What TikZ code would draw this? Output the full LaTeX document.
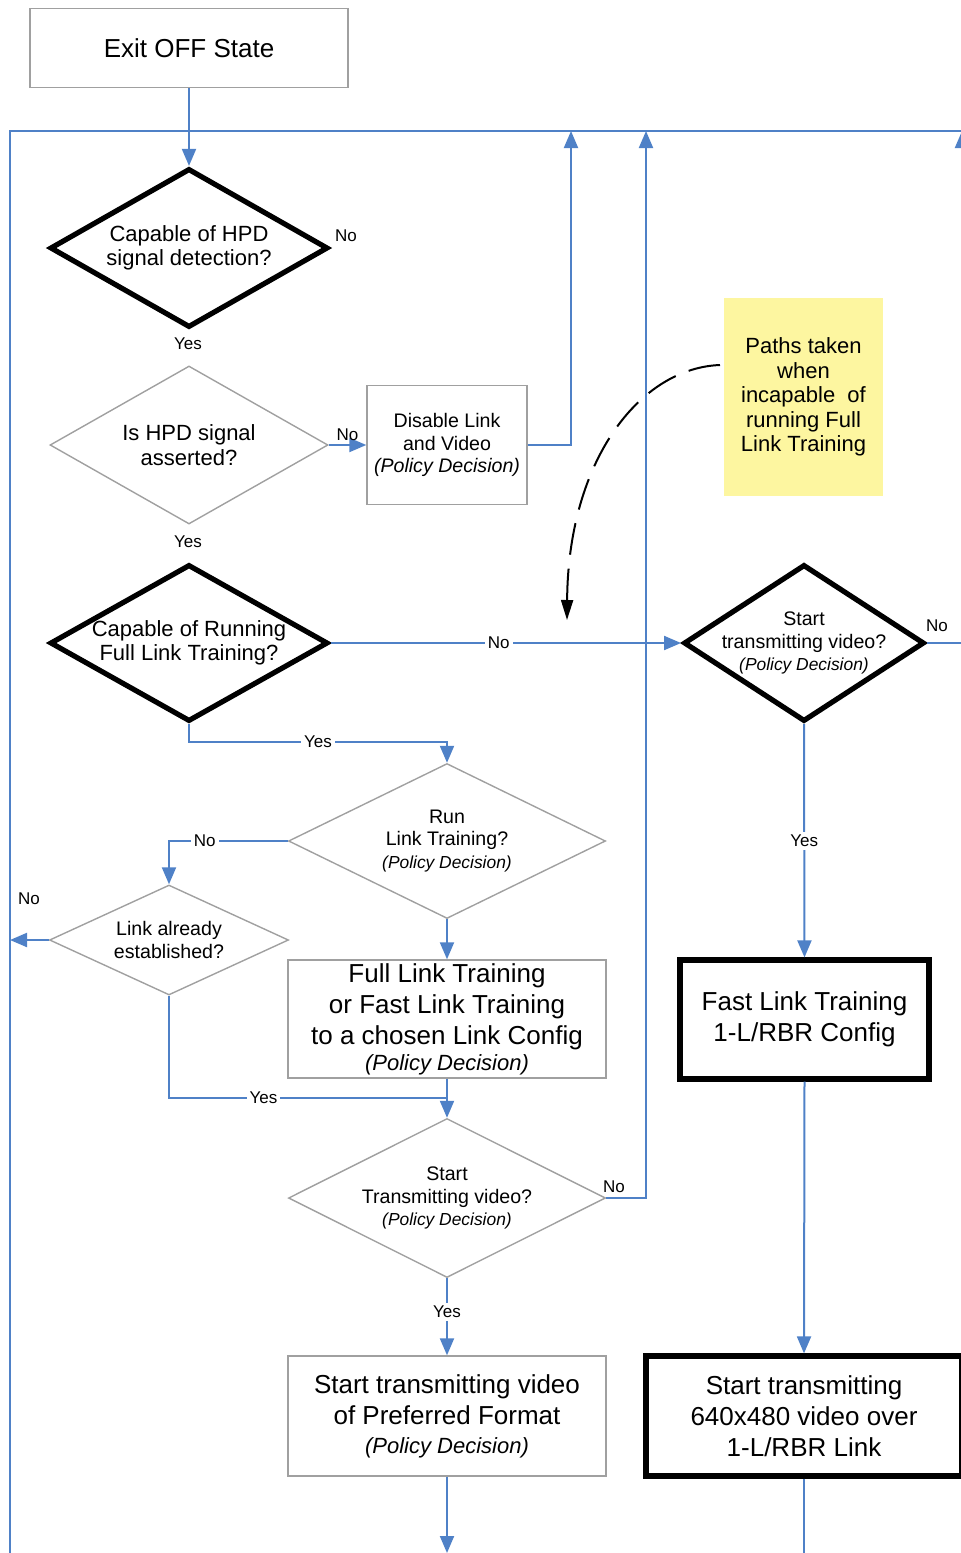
\documentclass[tikz,border=0pt]{standalone}
\usepackage{fontspec}
\setmainfont{Liberation Sans}
\usetikzlibrary{shapes.geometric,arrows.meta}
\definecolor{flowblue}{RGB}{79,129,199}
\definecolor{notefill}{RGB}{253,246,160}
\definecolor{boxgray}{RGB}{160,160,160}
\newcommand{\policy}[1]{{\fontsize{#1}{#1}\selectfont\itshape (Policy Decision)}}

\begin{document}
\begin{tikzpicture}[x=0.5pt,y=-0.5pt,
  wire/.style={draw=flowblue,line width=1pt},
  flow/.style={wire,-{Triangle[length=8.5pt,width=7pt]}},
  thinbox/.style={draw=boxgray,line width=0.7pt,rectangle,inner sep=0pt,align=center},
  thickbox/.style={draw=black,line width=2.6pt,rectangle,inner sep=0pt,align=center},
  thindia/.style={draw=boxgray,line width=0.7pt,diamond,aspect=2,inner xsep=-12pt,inner ysep=0pt,align=center},
  thickdia/.style={thindia,draw=black,line width=2.6pt},
  lbl/.style={font=\fontsize{8.5}{10}\selectfont,fill=white,inner sep=1.5pt},
  bigtext/.style={font=\fontsize{13}{15.5}\selectfont},
  midtext/.style={font=\fontsize{11}{12.3}\selectfont},
  smalltext/.style={font=\fontsize{9.8}{11.2}\selectfont}]
  \useasboundingbox (0,0) rectangle (960,1553);
  % loop back lines
  \coordinate (lb) at (10,1560);
  \coordinate (lt) at (10,131);
  \coordinate (rt) at (970,131);
  \coordinate (t1) at (571,131);
  \coordinate (t2) at (646,131);
  \coordinate (t3) at (962,131);
  \draw[wire] (lb) -- (lt) -- (rt);

  \node[thinbox,bigtext,minimum width=159pt,minimum height=39.5pt] (exit) at (189,48) {Exit OFF State};
  \node[thickdia,midtext,minimum width=139pt,minimum height=79.5pt] (hpdcap) at (189,248) {Capable of HPD\\signal detection?};
  \node[thindia,midtext,minimum width=139pt,minimum height=79pt] (hpdon) at (189,445) {Is HPD signal\\asserted?};
  \node[thinbox,smalltext,minimum width=80pt,minimum height=59.5pt] (disable) at (447,445) {Disable Link\\and Video\\{\itshape (Policy Decision)}};
  \node[thickdia,midtext,minimum width=139pt,minimum height=78.5pt] (fullcap) at (189,643) {Capable of Running\\Full Link Training?};
  \node[thickdia,smalltext,minimum width=120pt,minimum height=78.5pt] (vidq) at (804,643) {Start\\transmitting video?\\\policy{8.7}};
  \node[thindia,smalltext,minimum width=158.5pt,minimum height=77.5pt] (run) at (447,841) {Run\\Link Training?\\\policy{8.7}};
  \node[thindia,smalltext,minimum width=119.5pt,minimum height=55pt] (link) at (169,940) {Link already\\established?};
  \node[thinbox,bigtext,minimum width=159pt,minimum height=59pt] (full) at (447,1019) {Full Link Training\\or Fast Link Training\\to a chosen Link Config\\[-2.5pt]\policy{11}};
  \node[thindia,smalltext,minimum width=158.5pt,minimum height=79.5pt] (stq) at (447,1198) {Start\\Transmitting video?\\\policy{8.7}};
  \node[thinbox,bigtext,minimum width=159pt,minimum height=60pt] (pref) at (447,1416) {Start transmitting video\\of Preferred Format\\[-1pt]\policy{11}};
  \node[thickbox,bigtext,minimum width=124.5pt,minimum height=59.5pt] (fast) at (804.5,1019.5) {Fast Link Training\\1-L/RBR Config};
  \node[thickbox,bigtext,minimum width=158pt,minimum height=60pt] (vga) at (804,1416) {Start transmitting\\640x480 video over\\1-L/RBR Link};
  \node[fill=notefill,midtext,align=center,minimum width=79.5pt,minimum height=99pt] (note) at (803.5,397) {Paths taken\\when\\incapable\ \ of\\running Full\\Link Training};

  \node[lbl,fill=none] (hpdno) at (346,236) {No};
  \node[lbl,fill=none] (hpdyes) at (188,344) {Yes};
  \node[lbl,fill=none] (onyes) at (188,542) {Yes};
  \node[lbl,fill=none] (vidno) at (937,626) {No};
  \node[lbl,fill=none] (linkno) at (29,899) {No};
  \node[lbl,fill=none] (stqno) at (614,1187) {No};

  \draw[flow] (exit.south) -- (hpdcap.north);
  \draw[flow] (hpdon.east) -- node[lbl,fill=none,yshift=5pt]{No} (disable.west);
  \draw[flow] (disable.east) -| (t1);
  \draw[flow] (fullcap.east) -- node[lbl,pos=0.48]{No} (vidq.west);
  \draw[flow] (vidq.east) -| (t3);
  \coordinate (j1) at (447,742);
  \draw[flow] (fullcap.south) |- node[lbl,pos=0.75]{Yes} (j1) -- (run.north);
  \draw[flow] (run.west) -| node[lbl,pos=0.35]{No} (link.north);
  \draw[flow] (link.west) -- (link.west -| lt);
  \coordinate (j2) at (447,1098);
  \draw[wire] (link.south) |- node[lbl,pos=0.67]{Yes} (j2);
  \draw[flow] (run.south) -- (full.north);
  \draw[flow] (full.south) -- (stq.north);
  \draw[flow] (stq.east) -| (t2);
  \draw[flow] (stq.south) -- node[lbl,pos=0.44]{Yes} (pref.north);
  \coordinate (pb) at (447,1553);
  \draw[flow] (pref.south) -- (pb);
  \draw[flow] (vidq.south) -- node[lbl]{Yes} (fast.north);
  \draw[flow] (fast.south) -- (vga.north);
  \coordinate (vb) at (804,1560);
  \draw[wire] (vga.south) -- (vb);

  % note pointer
  \coordinate (cstart) at (720,365);
  \coordinate (ctip) at (567,620);
  \draw[line width=1pt,dash pattern=on 16pt off 7pt,-{Triangle[length=10pt,width=6pt]}] (cstart) .. controls (640,368) and (568,460) .. (ctip);
\end{tikzpicture}
\end{document}
